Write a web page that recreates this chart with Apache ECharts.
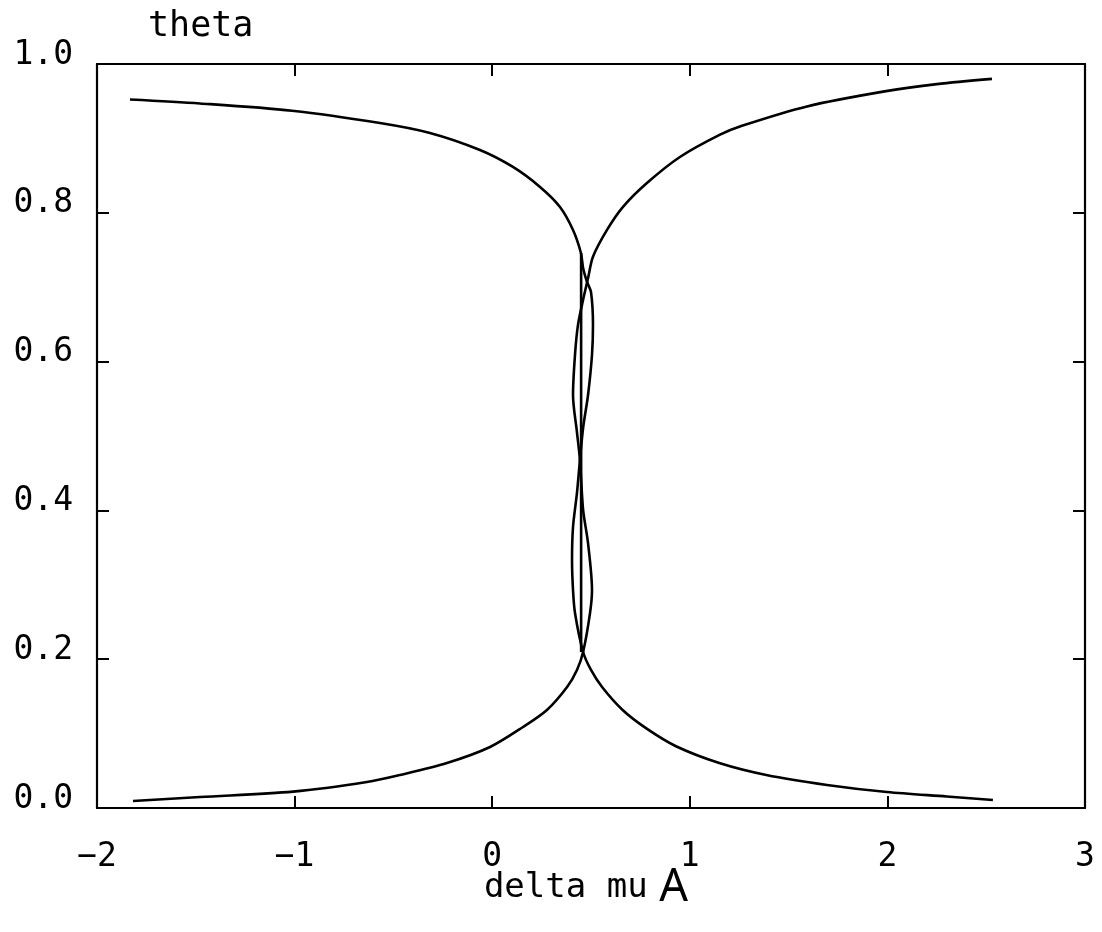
<!DOCTYPE html>
<html>
<head>
<meta charset="utf-8">
<title>theta vs delta mu A</title>
<script src="https://cdn.jsdelivr.net/npm/echarts@6/dist/echarts.min.js"></script>
<style>
  html, body { margin: 0; padding: 0; background: #fff; }
  #chart { width: 1102px; height: 932px; }
</style>
</head>
<body>
<div id="chart"></div>
<script>
// Coverage isotherm rising with delta mu (van der Waals loop in the middle)
const risingMu = [-1.818, -1.479, -1.008, -0.634, -0.467, -0.229, -0.011, 0.156, 0.277, 0.379, 0.429, 0.460,
  0.495, 0.505, 0.485, 0.460, 0.444, 0.429, 0.409, 0.419, 0.434, 0.460, 0.485,
  0.510, 0.581, 0.662, 0.783, 0.950, 1.153, 1.264, 1.593, 1.993, 2.250, 2.529];
const risingTheta = [0.0094, 0.0148, 0.0220, 0.0349, 0.0444, 0.0605, 0.0820, 0.1089, 0.1317, 0.1626, 0.1855, 0.2097,
  0.262, 0.293, 0.356, 0.401, 0.468, 0.505, 0.555, 0.609, 0.649, 0.683, 0.712,
  0.741, 0.777, 0.808, 0.840, 0.875, 0.905, 0.917, 0.943, 0.9635, 0.973, 0.980];

// Coverage isotherm falling with delta mu
const fallingMu = [-1.833, -1.479, -1.013, -0.568, -0.315, -0.062, 0.105, 0.242, 0.343, 0.409, 0.449,
  0.460, 0.480, 0.500, 0.510, 0.505, 0.485, 0.460, 0.444, 0.429, 0.409, 0.404, 0.409, 0.419, 0.460,
  0.500, 0.556, 0.660, 0.780, 0.930, 1.149, 1.387, 1.694, 1.998, 2.300, 2.534];
const fallingTheta = [0.9523, 0.9470, 0.9372, 0.9207, 0.9073, 0.8844, 0.8616, 0.8347, 0.8078, 0.7769, 0.7460,
  0.7258, 0.7070, 0.6935, 0.6492, 0.6089, 0.5551, 0.5108, 0.4677, 0.4234, 0.3777, 0.3333, 0.2930, 0.2621, 0.2097,
  0.1855, 0.1626, 0.1317, 0.1070, 0.0830, 0.0605, 0.0444, 0.0310, 0.0215, 0.0155, 0.0108];

// Equal-area (coexistence) line joining the two branches
const maxwellMu = [0.450, 0.450];
const maxwellTheta = [0.2097, 0.7460];

// Tick labels
const xTickValues = [-2, -1, 0, 1, 2, 3];
const xTickLabels = ['\u22122', '\u22121', '0', '1', '2', '3'];
const yTickValues = [0, 0.2, 0.4, 0.6, 0.8, 1.0];
const yTickLabels = ['0.0', '0.2', '0.4', '0.6', '0.8', '1.0'];

const zip = (xs, ys) => xs.map((x, i) => [x, ys[i]]);
const labelFor = (values, labels) => v => {
  const i = values.findIndex(t => Math.abs(t - v) < 1e-9);
  return i >= 0 ? labels[i] : '';
};

const INK = '#000';
const MONO = '"DejaVu Sans Mono", "Liberation Mono", monospace';

const frameAxis = {
  axisLine: { show: true, onZero: false, lineStyle: { color: INK, width: 2.2 } },
  axisTick: { show: true, inside: true, length: 12, lineStyle: { color: INK, width: 2 } },
  splitLine: { show: false }
};

const curveStyle = { color: INK, width: 2.6 };

const chart = echarts.init(document.getElementById('chart'), null, { renderer: 'canvas' });
chart.setOption({
  animation: false,
  backgroundColor: '#fff',
  title: {
    text: 'theta',
    left: 143,
    top: 4,
    textStyle: { fontFamily: MONO, fontSize: 35, fontWeight: 'normal', color: INK }
  },
  grid: { left: 97, right: 17, top: 64, bottom: 124, containLabel: false },
  xAxis: [
    Object.assign({
      type: 'value', position: 'bottom', min: -2, max: 3, interval: 1,
      axisLabel: {
        show: true, margin: 33, color: INK, fontFamily: MONO, fontSize: 33,
        formatter: labelFor(xTickValues, xTickLabels)
      },
      name: '{a|delta mu}{b| A}',
      nameLocation: 'middle',
      nameGap: 58,
      nameMoveOverlap: false,
      nameTextStyle: {
        padding: [0, 10, 0, 0],
        rich: {
          a: { fontFamily: MONO, fontSize: 34, color: INK },
          b: { fontFamily: '"Noto Sans", sans-serif', fontSize: 45, color: INK }
        }
      }
    }, frameAxis),
    Object.assign({
      type: 'value', position: 'top', min: -2, max: 3, interval: 1,
      axisLabel: { show: false }
    }, frameAxis)
  ],
  yAxis: [
    Object.assign({
      type: 'value', position: 'left', min: 0, max: 1, interval: 0.2,
      axisLabel: {
        show: true, margin: 24, color: INK, fontFamily: MONO, fontSize: 33,
        verticalAlign: 'bottom', lineHeight: 18,
        formatter: labelFor(yTickValues, yTickLabels)
      }
    }, frameAxis),
    Object.assign({
      type: 'value', position: 'right', min: 0, max: 1, interval: 0.2,
      axisLabel: { show: false }
    }, frameAxis)
  ],
  series: [
    {
      name: 'rising', type: 'line', xAxisIndex: 0, yAxisIndex: 0,
      data: zip(risingMu, risingTheta),
      showSymbol: false, smooth: 0.3, lineStyle: curveStyle
    },
    {
      name: 'falling', type: 'line', xAxisIndex: 0, yAxisIndex: 0,
      data: zip(fallingMu, fallingTheta),
      showSymbol: false, smooth: 0.3, lineStyle: curveStyle
    },
    {
      name: 'coexistence', type: 'line', xAxisIndex: 0, yAxisIndex: 0,
      data: zip(maxwellMu, maxwellTheta),
      showSymbol: false, lineStyle: curveStyle
    }
  ]
});
</script>
</body>
</html>
